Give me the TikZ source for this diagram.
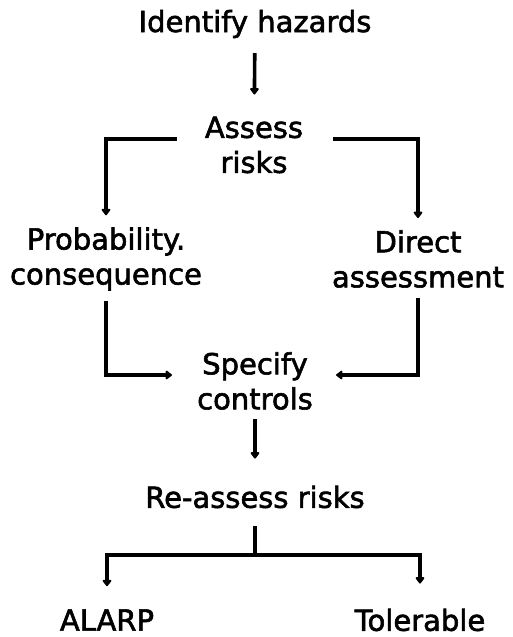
\documentclass[tikz,border=0pt]{standalone}
\usepackage{fontspec}
\setmainfont{DejaVu Sans}[FakeBold=2]
\usetikzlibrary{arrows.meta}
\newcommand{\labelsize}{\fontsize{29pt}{35pt}\selectfont}
\begin{document}
\begin{tikzpicture}[x=1pt, y=-1pt,
  lbl/.style={inner sep=0pt, align=center, font=\labelsize},
  ln/.style={line width=3.6pt},
  arr/.style={ln, -{Triangle[width=10pt,length=7pt,round]}}]
\useasboundingbox (0,0) rectangle (512,637);

% steps of the assessment
\node[lbl] (idh)      at (255,24)  {Identify hazards};
\node[lbl] (assess)   at (254,145) {Assess\\risks};
\node[lbl] (prob)     at (106,259) {Probability.\\consequence};
\node[lbl] (direct)   at (418,259) {Direct\\assessment};
\node[lbl] (spec)     at (255,381) {Specify\\controls};
\node[lbl] (reassess) at (255,497) {Re-assess risks};
\node[lbl] (alarp)    at (107,620) {ALARP};
\node[lbl] (tol)      at (420,620) {Tolerable};
\coordinate (split) at (255,555);

% flow
\draw[arr, shorten <=15pt, shorten >=22pt] (idh) -- (assess);
\draw[arr, shorten <=28pt, shorten >=12pt] ([yshift=6pt]assess.west) -| (prob.north);
\draw[arr, shorten <=30pt, shorten >=12pt] ([yshift=6pt]assess.east) -| (direct.north);
\draw[arr, shorten <=10pt, shorten >=25pt] (prob.south) |- ([yshift=6pt]spec.west);
\draw[arr, shorten <=10pt, shorten >=23pt] (direct.south) |- ([yshift=6pt]spec.east);
\draw[arr, shorten <=9pt, shorten >=27pt] (spec) -- (reassess);
\draw[ln, shorten <=18pt] (reassess.south) -- (split);
\draw[arr, shorten >=23pt] (split) -| (alarp.north);
\draw[arr, shorten >=25pt] (split) -| (tol.north);
\end{tikzpicture}
\end{document}
